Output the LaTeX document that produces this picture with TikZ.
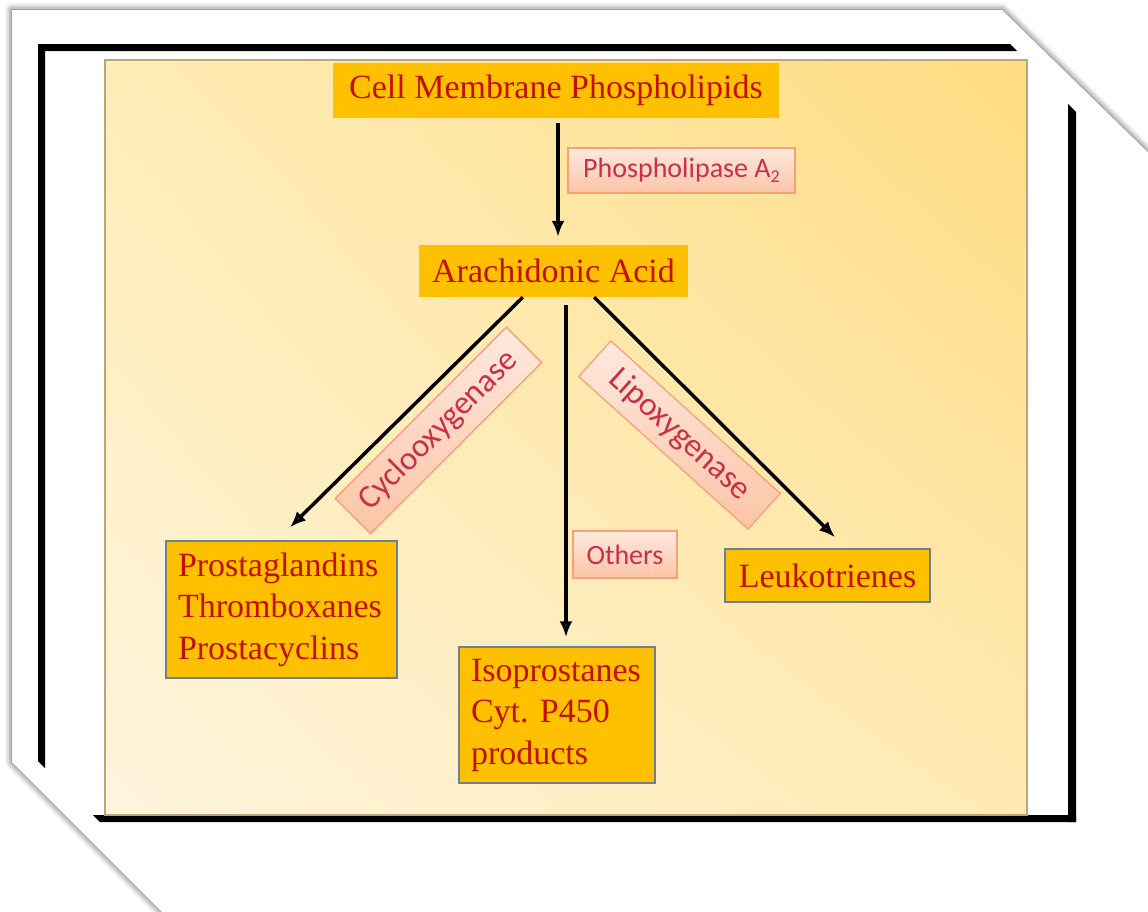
\documentclass[tikz,border=0pt]{standalone}
\usepackage{fontspec}
\usetikzlibrary{arrows.meta,calc,shadows.blur,shadings}
\newfontfamily\serifA{Liberation Serif}
\newfontfamily\sansA{Carlito}
\frenchspacing
\definecolor{gold}{HTML}{FFC000}
\definecolor{boxtext}{HTML}{C01000}
\definecolor{boxedge}{HTML}{6F8090}
\definecolor{labtext}{HTML}{C8304A}
\definecolor{labtop}{HTML}{FFE9DE}
\definecolor{labbot}{HTML}{FCC4A6}
\definecolor{labedge}{HTML}{F7A07A}
\definecolor{panUL}{HTML}{FFECB6}
\definecolor{panUR}{HTML}{FFDC82}
\definecolor{panLL}{HTML}{FFF5DE}
\definecolor{panLR}{HTML}{FFEAB2}
\definecolor{panedge}{HTML}{BCA679}
\tikzset{
  boxA/.style={fill=gold, text=boxtext, inner sep=0pt, font=\serifA\fontsize{34}{41.5}\selectfont},
  boxB/.style={boxA, draw=boxedge, line width=1.5pt, inner xsep=12pt, inner ysep=0pt},
  lbl/.style={draw=labedge, line width=1.3pt, top color=labtop, bottom color=labbot, text=labtext, inner sep=0pt, font=\sansA\fontsize{28}{30}\selectfont},
  lblbig/.style={lbl, font=\sansA\fontsize{33}{36}\selectfont},
  arr/.style={line width=3.5pt, -{Latex[length=16pt,width=13pt]}},
  frameline/.style={fill=black}
}
\begin{document}
\begin{tikzpicture}[x=1pt,y=-1pt]
\useasboundingbox (0,0) rectangle (1148,911);
\clip (0,0) rectangle (1148,911);
% white sheet with cut corners
\path[fill=white, blur shadow={shadow xshift=0pt, shadow yshift=0pt, shadow blur radius=7pt, shadow opacity=75}]
  (12,10) -- (1002,10) -- (1165,169) -- (1165,930) -- (180,930) -- (12,762) -- cycle;
% black frame pieces
\fill[frameline] (38,44) -- (1010,44) -- (1017,51) -- (38,51) -- cycle;
\fill[frameline] (38,44) -- (45,44) -- (45,768) -- (38,761) -- cycle;
\fill[frameline] (1068,104) -- (1076,112) -- (1076,822) -- (1068,822) -- cycle;
\fill[frameline] (93,815) -- (1076,815) -- (1076,822) -- (100,822) -- cycle;
% yellow panel
\shade[upper left=panUL, upper right=panUR, lower left=panLL, lower right=panLR] (105,60) rectangle (1027,815);
\draw[panedge, line width=1.2pt] (105,60) rectangle (1027,815);

% nodes
\node[boxA, minimum width=446pt, minimum height=55pt] (cmp) at (556,90.5) {Cell Membrane Phospholipids};
\node[boxA, minimum width=269pt, minimum height=52pt] (aa) at (553.5,271) {Arachidonic Acid};
\node[lbl, minimum width=227pt, minimum height=45pt] (pla) at (681.5,170.5) {Phospholipase A\raisebox{-5pt}{\fontsize{18}{18}\selectfont 2}};
\node[boxB, text width=207pt, minimum height=137pt, align=left] (pg) at (281.5,609.5) {Prostaglandins\\Thromboxanes\\Prostacyclins};
\node[boxB, text width=172pt, minimum height=136pt, align=left] (iso) at (557,715) {Isoprostanes\\Cyt. P450\\products};
\node[boxB, minimum width=205pt, minimum height=53pt, inner xsep=0pt] (lk) at (827.5,575.5) {Leukotrienes};
\node[lbl, minimum width=104pt, minimum height=47pt] (oth) at (625,554.5) {Others};
\node[lblbig, rotate=45, minimum width=242pt, minimum height=50pt] (cox) at (438.5,430.5) {Cyclooxygenase};
\node[lblbig, rotate=-42, minimum width=228pt, minimum height=48pt] (lox) at (679.5,435) {Lipoxygenase};

% connectors
\draw[arr] ($(cmp.south)+(2,5)$) -- ($(aa.north)+(4.5,-8)$);
\draw[arr] ($(aa.south west)+(104,0)$) -- ($(pg.north)+(8.5,-13)$);
\draw[arr] ($(aa.south)+(12.5,8)$) -- ($(iso.north)+(9,-9)$);
\draw[arr] ($(aa.south east)+(-94,0)$) -- ($(lk.north)+(7.5,-11)$);
\end{tikzpicture}
\end{document}
